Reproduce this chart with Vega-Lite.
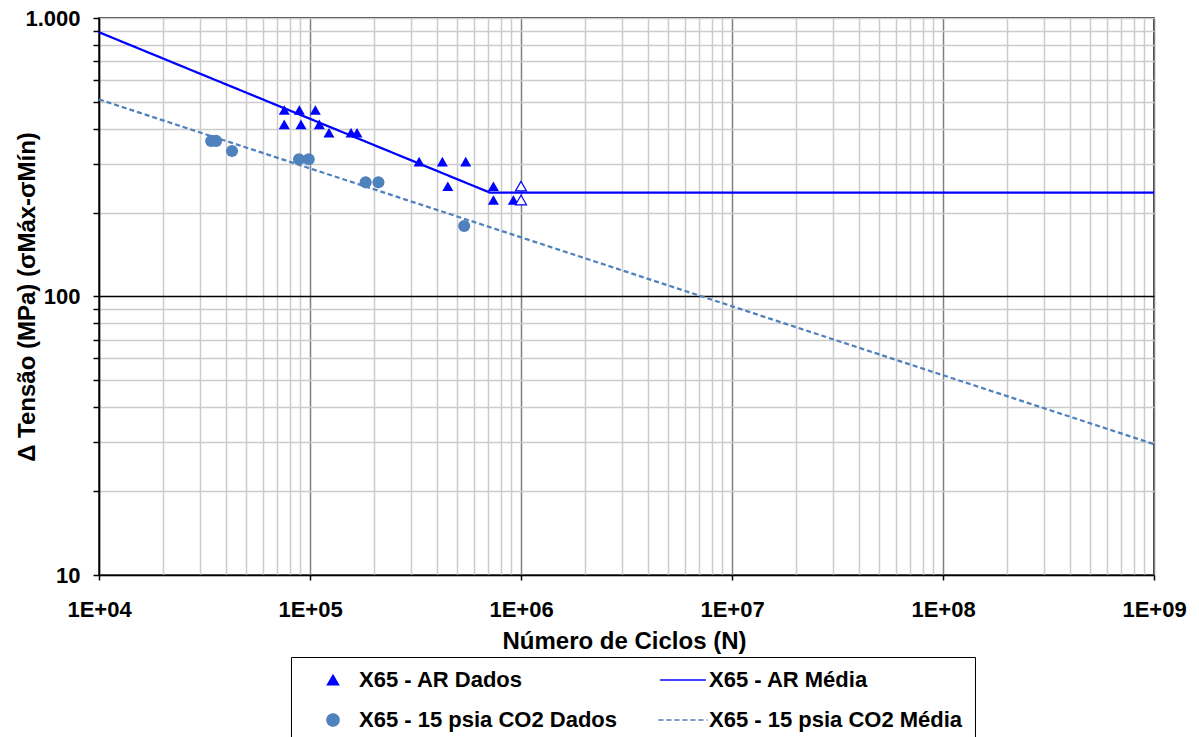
{
  "$schema": "https://vega.github.io/schema/vega-lite/v6.json",
  "autosize": {"type": "none"},
  "padding": {"left": 99, "top": 18, "right": 45, "bottom": 162},
  "width": 1055,
  "height": 557,
  "background": "white",
  "config": {
    "view": {"stroke": "#000000", "strokeWidth": 1.5},
    "font": "Liberation Sans"
  },
  "datasets": {
    "medias": [
      {"N": 10000, "S": 889, "serie": "X65 - AR Média"},
      {"N": 713000, "S": 236, "serie": "X65 - AR Média"},
      {"N": 1000000000, "S": 236, "serie": "X65 - AR Média"},
      {"N": 10000, "S": 510, "serie": "X65 - 15 psia CO2 Média"},
      {"N": 1000000000, "S": 29.5, "serie": "X65 - 15 psia CO2 Média"}
    ],
    "dados": [
      {"N": 75500, "S": 467, "serie": "X65 - AR Dados"},
      {"N": 89000, "S": 467, "serie": "X65 - AR Dados"},
      {"N": 106000, "S": 467, "serie": "X65 - AR Dados"},
      {"N": 75500, "S": 415, "serie": "X65 - AR Dados"},
      {"N": 90600, "S": 415, "serie": "X65 - AR Dados"},
      {"N": 110700, "S": 415, "serie": "X65 - AR Dados"},
      {"N": 123000, "S": 387, "serie": "X65 - AR Dados"},
      {"N": 156500, "S": 387, "serie": "X65 - AR Dados"},
      {"N": 167000, "S": 387, "serie": "X65 - AR Dados"},
      {"N": 329000, "S": 305, "serie": "X65 - AR Dados"},
      {"N": 424000, "S": 305, "serie": "X65 - AR Dados"},
      {"N": 547000, "S": 305, "serie": "X65 - AR Dados"},
      {"N": 450000, "S": 249, "serie": "X65 - AR Dados"},
      {"N": 740000, "S": 249, "serie": "X65 - AR Dados"},
      {"N": 740000, "S": 222, "serie": "X65 - AR Dados"},
      {"N": 920000, "S": 222, "serie": "X65 - AR Dados"},
      {"N": 34000, "S": 362, "serie": "X65 - 15 psia CO2 Dados"},
      {"N": 35900, "S": 362, "serie": "X65 - 15 psia CO2 Dados"},
      {"N": 42700, "S": 333, "serie": "X65 - 15 psia CO2 Dados"},
      {"N": 88700, "S": 311, "serie": "X65 - 15 psia CO2 Dados"},
      {"N": 98600, "S": 311, "serie": "X65 - 15 psia CO2 Dados"},
      {"N": 183500, "S": 257, "serie": "X65 - 15 psia CO2 Dados"},
      {"N": 211000, "S": 257, "serie": "X65 - 15 psia CO2 Dados"},
      {"N": 538000, "S": 179, "serie": "X65 - 15 psia CO2 Dados"}
    ],
    "runouts": [
      {"N": 1000000, "S": 249},
      {"N": 1000000, "S": 222}
    ]
  },
  "encoding": {
    "x": {
      "field": "N",
      "type": "quantitative",
      "scale": {"type": "log", "domain": [10000, 1000000000], "nice": false},
      "axis": {
        "title": "Número de Ciclos (N)",
        "titleFont": "Liberation Sans",
        "titleFontSize": 24,
        "titleFontWeight": "bold",
        "titleColor": "#000000",
        "titleX": 525,
        "titleY": 54,
        "titleAlign": "center",
        "titleBaseline": "top",
        "values": [10000, 20000, 30000, 40000, 50000, 60000, 70000, 80000, 90000,
                   100000, 200000, 300000, 400000, 500000, 600000, 700000, 800000, 900000,
                   1000000, 2000000, 3000000, 4000000, 5000000, 6000000, 7000000, 8000000, 9000000,
                   10000000, 20000000, 30000000, 40000000, 50000000, 60000000, 70000000, 80000000, 90000000,
                   100000000, 200000000, 300000000, 400000000, 500000000, 600000000, 700000000, 800000000, 900000000,
                   1000000000],
        "labelExpr": "abs(log(datum.value)/LN10 - round(log(datum.value)/LN10)) < 0.001 ? '1E+0' + round(log(datum.value)/LN10) : ''",
        "labelFont": "Liberation Sans",
        "labelFontSize": 22,
        "labelFontWeight": "bold",
        "labelColor": "#000000",
        "labelOverlap": false,
        "labelFlush": false,
        "labelPadding": 19,
        "tickSize": 5,
        "tickWidth": 1.5,
        "tickColor": {"condition": {"test": "abs(log(datum.value)/LN10 - round(log(datum.value)/LN10)) < 0.001", "value": "#000000"}, "value": "transparent"},
        "grid": true,
        "gridColor": {"condition": {"test": "abs(log(datum.value)/LN10 - round(log(datum.value)/LN10)) < 0.001", "value": "#808080"}, "value": "#cccccc"},
        "gridWidth": 1.5,
        "domainColor": "#000000",
        "domainWidth": 1.5
      }
    },
    "y": {
      "field": "S",
      "type": "quantitative",
      "scale": {"type": "log", "domain": [10, 1000], "nice": false},
      "axis": {
        "title": "Δ Tensão (MPa) (σMáx-σMín)",
        "titleFont": "Liberation Sans",
        "titleFontSize": 24,
        "titleFontWeight": "bold",
        "titleColor": "#000000",
        "titleX": -65,
        "titleY": 278.5,
        "titleAngle": 270,
        "titleAlign": "center",
        "titleBaseline": "alphabetic",
        "values": [10, 20, 30, 40, 50, 60, 70, 80, 90, 100, 200, 300, 400, 500, 600, 700, 800, 900, 1000],
        "labelExpr": "datum.value == 1000 ? '1.000' : (datum.value == 100 ? '100' : (datum.value == 10 ? '10' : ''))",
        "labelFont": "Liberation Sans",
        "labelFontSize": 22,
        "labelFontWeight": "bold",
        "labelColor": "#000000",
        "labelOverlap": false,
        "labelFlush": false,
        "labelPadding": 13,
        "tickSize": 6,
        "tickWidth": 1.5,
        "tickColor": "#000000",
        "grid": true,
        "gridColor": {"condition": {"test": "datum.value == 100", "value": "#000000"}, "value": "#cccccc"},
        "gridWidth": 1.5,
        "domainColor": "#000000",
        "domainWidth": 1.5
      }
    }
  },
  "layer": [
    {
      "data": {"name": "medias"},
      "mark": {"type": "line", "strokeWidth": 2.25, "opacity": 1},
      "encoding": {
        "color": {
          "field": "serie",
          "type": "nominal",
          "scale": {
            "domain": ["X65 - AR Dados", "X65 - 15 psia CO2 Dados", "X65 - AR Média", "X65 - 15 psia CO2 Média"],
            "range": ["#0000ff", "#4f81bd", "#0000ff", "#4f81bd"]
          },
          "legend": {
            "title": null,
            "orient": "none",
            "legendX": 192,
            "legendY": 639,
            "columns": 2,
            "labelFont": "Liberation Sans",
            "labelFontSize": 22,
            "labelFontWeight": "bold",
            "labelColor": "#000000",
            "labelLimit": 500,
            "symbolSize": 121,
            "padding": 12,
            "symbolOffset": 19,
            "labelOffset": 15,
            "columnPadding": 36,
            "rowPadding": 18,
            "strokeColor": "#000000",
            "fillColor": "#ffffff",
            "encode": {
              "symbols": {
                "update": {
                  "fill": [
                    {"test": "indexof(datum.value, 'Média') >= 0", "value": "transparent"},
                    {"scale": "color", "field": "value"}
                  ],
                  "stroke": {"scale": "color", "field": "value"},
                  "strokeWidth": [
                    {"test": "indexof(datum.value, 'Média') >= 0", "value": 2},
                    {"value": 0}
                  ],
                  "strokeDash": [
                    {"test": "datum.value == 'X65 - 15 psia CO2 Média'", "value": [4, 2]},
                    {"value": [1, 0]}
                  ],
                  "opacity": {"value": 1}
                }
              }
            }
          }
        },
        "strokeDash": {
          "field": "serie",
          "type": "nominal",
          "scale": {
            "domain": ["X65 - AR Dados", "X65 - 15 psia CO2 Dados", "X65 - AR Média", "X65 - 15 psia CO2 Média"],
            "range": [[1, 0], [1, 0], [1, 0], [5, 3]]
          }
        }
      }
    },
    {
      "data": {"name": "dados"},
      "mark": {"type": "point", "filled": true, "opacity": 1, "strokeWidth": 0},
      "encoding": {
        "color": {"field": "serie", "type": "nominal"},
        "shape": {
          "field": "serie",
          "type": "nominal",
          "scale": {
            "domain": ["X65 - AR Dados", "X65 - 15 psia CO2 Dados", "X65 - AR Média", "X65 - 15 psia CO2 Média"],
            "range": ["triangle-up", "circle", "M-3.5,0H3.5", "M-3.5,0H3.5"]
          }
        },
        "size": {
          "field": "serie",
          "type": "nominal",
          "scale": {
            "domain": ["X65 - AR Dados", "X65 - 15 psia CO2 Dados", "X65 - AR Média", "X65 - 15 psia CO2 Média"],
            "range": [121, 196, 121, 121]
          },
          "legend": null
        }
      }
    },
    {
      "data": {"name": "runouts"},
      "mark": {"type": "point", "shape": "triangle-up", "filled": true, "fill": "#ffffff", "stroke": "#0000ff", "strokeWidth": 1.2, "size": 121, "opacity": 1}
    }
  ]
}
